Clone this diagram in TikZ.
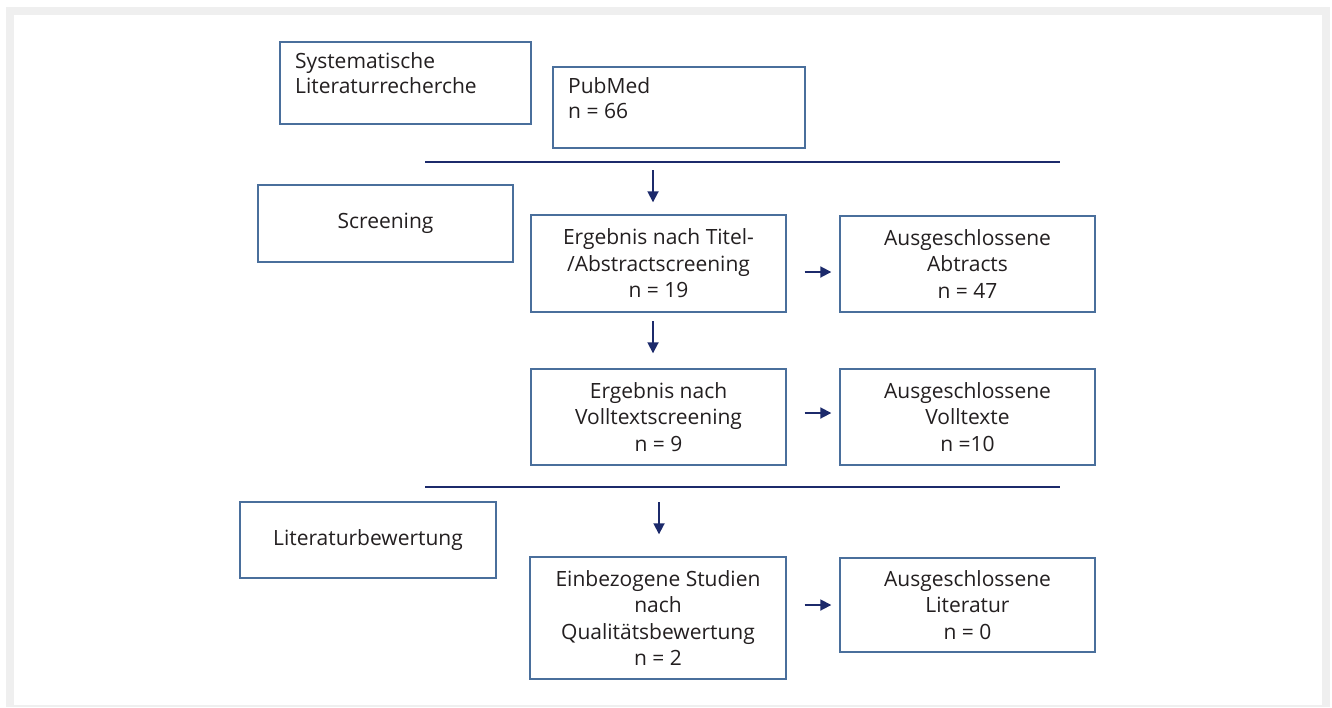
\documentclass[tikz,border=0pt]{standalone}
\usepackage{fontspec}
\setmainfont{Open Sans}
\usetikzlibrary{arrows.meta}
\definecolor{navy}{HTML}{1C2A6B}
\definecolor{boxline}{HTML}{4A6F9C}
\definecolor{txt}{HTML}{231F20}
\definecolor{frame}{HTML}{EFEFEF}
\tikzset{
  box/.style={draw=boxline, line width=1.4pt, fill=white, inner sep=0pt},
  boxtext/.style={text=txt, font=\fontsize{21}{26.5}\selectfont, align=center},
  cornertext/.style={text=txt, font=\fontsize{21}{25.5}\selectfont, align=left, anchor=north west, inner sep=0pt},
  rule/.style={draw=navy, line width=2.6pt},
  arr/.style={draw=navy, line width=1.8pt, -{Triangle[length=11pt,width=11pt]}},
}
\newcommand{\boxat}[6]{% name, x1, y1, x2, y2, text
  \node[box, boxtext, minimum width={#4-#2}, minimum height={#5-#3}]
    (#1) at ({(#2+#4)/2},{(#3+#5)/2}) {#6};}
\begin{document}
\begin{tikzpicture}[x=1pt, y=-1pt]
  \useasboundingbox (0,0) rectangle (1332,707);
  % page frame
  \fill[frame] (6,7) rectangle (1330,707);
  \fill[white] (14,15) rectangle (1322,705);

  % boxes
  \boxat{sys}{280}{42}{531}{124}{}
  \node[cornertext] (systxt) at (295,52) {Systematische\\Literaturrecherche};
  \boxat{pub}{553}{67}{805}{148}{}
  \node[cornertext] (pubtxt) at (568,77) {PubMed\\n = 66};

  \boxat{scr}{258}{185}{513}{262}{Screening}
  \boxat{erg1}{531}{215}{786}{312}{Ergebnis nach Titel-\\/Abstractscreening\\n = 19}
  \boxat{aus1}{840}{216}{1095}{312}{Ausgeschlossene\\Abtracts\\n = 47}
  \boxat{erg2}{531}{369}{786}{465}{Ergebnis nach\\Volltextscreening\\n = 9}
  \boxat{aus2}{840}{369}{1095}{465}{Ausgeschlossene\\Volltexte\\n =10}

  \boxat{lit}{240}{502}{496}{578}{Literaturbewertung}
  \boxat{ein}{530}{557}{786}{679}{Einbezogene Studien\\nach\\Qualitätsbewertung\\n = 2}
  \boxat{aus3}{840}{558}{1095}{652}{Ausgeschlossene\\Literatur\\n = 0}

  % section rules
  \coordinate (r1a) at (425,162);
  \coordinate (r1b) at (1060,162);
  \coordinate (r2a) at (425,487);
  \coordinate (r2b) at (1060,487);
  \draw[rule] (r1a) -- (r1b);
  \draw[rule] (r2a) -- (r2b);

  % downward arrows
  \coordinate (d1) at (653,170);
  \coordinate (d2) at (653,321);
  \coordinate (d3) at (659,502);
  \draw[arr, shorten >=12pt] (d1) -- (d1 |- erg1.north);
  \draw[arr, shorten >=15pt] (d2) -- (d2 |- erg2.north);
  \draw[arr, shorten >=22pt] (d3) -- (d3 |- ein.north);

  % arrows to excluded boxes
  \draw[arr, shorten <=18pt, shorten >=8pt] ([yshift=-8pt]erg1.east |- aus1.west) -- ([yshift=-8pt]aus1.west);
  \draw[arr, shorten <=18pt, shorten >=8pt] ([yshift=4pt]erg2.east |- aus2.west) -- ([yshift=4pt]aus2.west);
  \draw[arr, shorten <=18pt, shorten >=8pt] (ein.east |- aus3.west) -- (aus3.west);
\end{tikzpicture}
\end{document}
